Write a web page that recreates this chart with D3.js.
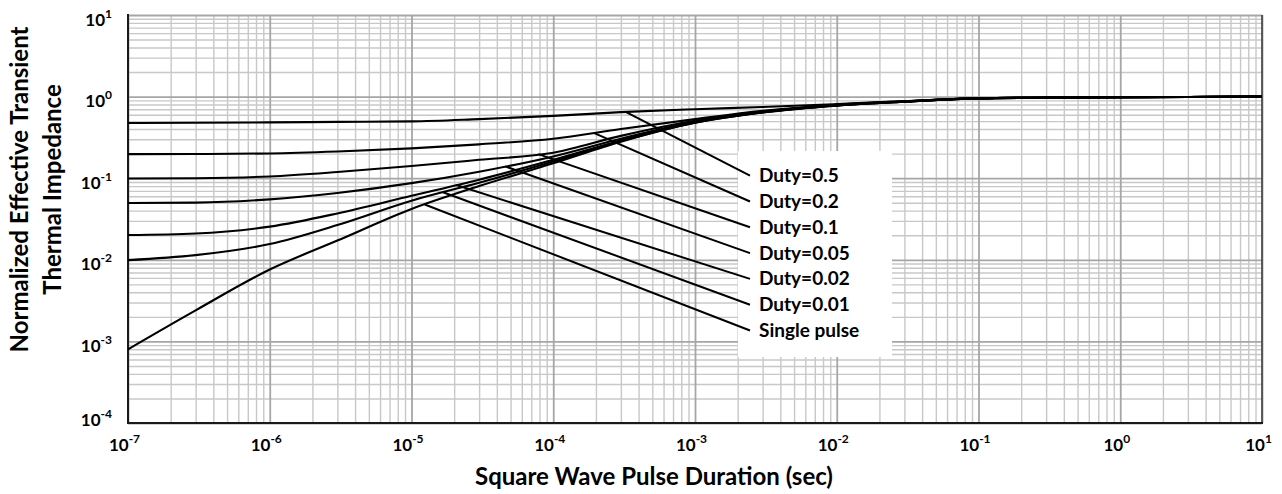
<!DOCTYPE html>
<html><head><meta charset="utf-8">
<script src="https://cdn.jsdelivr.net/npm/d3@7"></script>
<style>
body{margin:0;background:#fff}
svg{display:block;font-family:Lato,'Open Sans',sans-serif;font-weight:bold}
</style>
</head><body><svg id="c" width="1282" height="494"></svg>
<script>
// ---- data ----
const times   = [1e-7, 3e-7, 1e-6, 3e-6, 1e-5, 3e-5, 1e-4, 3e-4, 1e-3, 3e-3, 1e-2, 3e-2, 1e-1, 3e-1, 1, 3, 10];
const duty05  = [0.475,0.478,0.483,0.49,0.497,0.53,0.58,0.645,0.70,0.745,0.81,0.88,0.955,0.975,0.985,0.99,1.0];
const duty02  = [0.197,0.198,0.201,0.212,0.232,0.26,0.305,0.40,0.53,0.67,0.795,0.875,0.953,0.973,0.984,0.99,1.0];
const duty01  = [0.099,0.10,0.105,0.119,0.141,0.168,0.205,0.33,0.505,0.655,0.787,0.872,0.952,0.972,0.983,0.99,1.0];
const duty005 = [0.0497,0.0502,0.055,0.066,0.087,0.12,0.185,0.305,0.49,0.65,0.783,0.87,0.951,0.971,0.982,0.99,1.0];
const duty002 = [0.0201,0.021,0.0255,0.037,0.061,0.096,0.168,0.29,0.485,0.645,0.78,0.868,0.95,0.97,0.981,0.99,1.0];
const duty001 = [0.0099,0.0114,0.0156,0.0267,0.053,0.088,0.16,0.285,0.48,0.64,0.778,0.866,0.95,0.97,0.98,0.99,1.0];
const single  = [0.0008,0.0024,0.0076,0.0172,0.042,0.08,0.152,0.28,0.478,0.638,0.776,0.865,0.95,0.97,0.98,0.99,1.0];
const seriesLabels = ["Duty=0.5","Duty=0.2","Duty=0.1","Duty=0.05","Duty=0.02","Duty=0.01","Single pulse"];
const pointerTimes = [3.24e-4, 1.93e-4, 7.85e-5, 4.57e-5, 2.07e-5, 1.67e-5, 1.24e-5];
const xTickExponents = [-7,-6,-5,-4,-3,-2,-1,0,1];
const yTickExponents = [-4,-3,-2,-1,0,1];
const xTitle = "Square Wave Pulse Duration (sec)";
const yTitleLines = ["Normalized Effective Transient","Thermal Impedance"];

const seriesValues = [duty05, duty02, duty01, duty005, duty002, duty001, single];

// ---- layout ----
const svg = d3.select("#c");
const L = 128, R = 1262, T = 15, B = 423;
const x = d3.scaleLog().domain([1e-7, 10]).range([L, R]);
const y = d3.scaleLog().domain([1e-4, 10]).range([B, T]);

// minor / major grid values
const minorX = [], majorX = [], minorY = [], majorY = [];
for (let d = -7; d <= 1; d++) { majorX.push(Math.pow(10, d)); if (d < 1) for (let k = 2; k <= 9; k++) minorX.push(k * Math.pow(10, d)); }
for (let d = -4; d <= 1; d++) { majorY.push(Math.pow(10, d)); if (d < 1) for (let k = 2; k <= 9; k++) minorY.push(k * Math.pow(10, d)); }

function grid(g, axis, color, w) {
  g.call(axis);
  g.select(".domain").remove();
  g.selectAll("line").attr("stroke", color).attr("stroke-width", w);
}
svg.append("g").attr("transform", `translate(0,${B})`)
  .call(g => grid(g, d3.axisBottom(x).tickValues(minorX).tickSize(-(B - T)).tickFormat(""), "#c8c8c8", 1.4));
svg.append("g").attr("transform", `translate(${L},0)`)
  .call(g => grid(g, d3.axisLeft(y).tickValues(minorY).tickSize(-(R - L)).tickFormat(""), "#c8c8c8", 1.4));
svg.append("g").attr("transform", `translate(0,${B})`)
  .call(g => grid(g, d3.axisBottom(x).tickValues(majorX).tickSize(-(B - T)).tickFormat(""), "#a6a6a6", 1.8));
svg.append("g").attr("transform", `translate(${L},0)`)
  .call(g => grid(g, d3.axisLeft(y).tickValues(majorY).tickSize(-(R - L)).tickFormat(""), "#a6a6a6", 1.8));

// frame
svg.append("line").attr("x1", R).attr("x2", R).attr("y1", T).attr("y2", B).attr("stroke", "#404040").attr("stroke-width", 1.6);
svg.append("line").attr("x1", L).attr("x2", L).attr("y1", T - 1).attr("y2", B + 1).attr("stroke", "#1a1a1a").attr("stroke-width", 2);
svg.append("line").attr("x1", L - 1).attr("x2", R + 1).attr("y1", B).attr("y2", B).attr("stroke", "#1a1a1a").attr("stroke-width", 2);

// curves
const line = d3.line().x(d => x(d[0])).y(d => y(d[1])).curve(d3.curveMonotoneX);
seriesValues.forEach(vals => {
  svg.append("path").datum(times.map((t, i) => [t, vals[i]]))
    .attr("d", line).attr("fill", "none").attr("stroke", "#000").attr("stroke-width", 2.1);
});

// legend box
const lgX = 759, lgY0 = 175.7, lgStep = 25.8;
svg.append("rect").attr("x", 738).attr("y", 151).attr("width", 154).attr("height", 206).attr("fill", "#fff");

function interp(vals, t) {
  const lt = Math.log10(t);
  for (let i = 0; i < times.length - 1; i++) {
    const a = Math.log10(times[i]), b = Math.log10(times[i + 1]);
    if (lt >= a && lt <= b) {
      const f = (lt - a) / (b - a);
      return Math.pow(10, Math.log10(vals[i]) + f * (Math.log10(vals[i + 1]) - Math.log10(vals[i])));
    }
  }
  return vals[vals.length - 1];
}

seriesLabels.forEach((lab, i) => {
  const cy = lgY0 + i * lgStep;
  const pt = pointerTimes[i];
  svg.append("line")
    .attr("x1", x(pt)).attr("y1", y(interp(seriesValues[i], pt)))
    .attr("x2", lgX - 9).attr("y2", cy)
    .attr("stroke", "#000").attr("stroke-width", 2);
  svg.append("text").attr("x", lgX).attr("y", cy + 6.5)
    .attr("font-size", 19).attr("fill", "#000").text(lab);
});

// tick labels
function powLabel(sel, e) {
  sel.append("tspan").text("10");
  sel.append("tspan").attr("font-size", 12).attr("dy", -8).text(e);
}
svg.append("g").selectAll("text").data(xTickExponents).join("text")
  .attr("x", e => x(Math.pow(10, e)) - 3.5).attr("y", 451)
  .attr("text-anchor", "middle").attr("font-size", 17).attr("fill", "#000")
  .each(function (e) { powLabel(d3.select(this), e); });
svg.append("g").selectAll("text").data(yTickExponents).join("text")
  .attr("x", 112).attr("y", e => Math.min(y(Math.pow(10, e)) + 10.5, 426))
  .attr("text-anchor", "end").attr("font-size", 17).attr("fill", "#000")
  .each(function (e) { powLabel(d3.select(this), e); });

// axis titles
svg.append("text").attr("x", 654).attr("y", 485).attr("text-anchor", "middle")
  .attr("font-size", 24).attr("fill", "#000").text(xTitle);
yTitleLines.forEach((s, i) => {
  svg.append("text").attr("transform", `translate(${28 + i * 33},189.5) rotate(-90)`)
    .attr("text-anchor", "middle").attr("font-size", 24).attr("fill", "#000").text(s);
});
</script>
</body></html>
